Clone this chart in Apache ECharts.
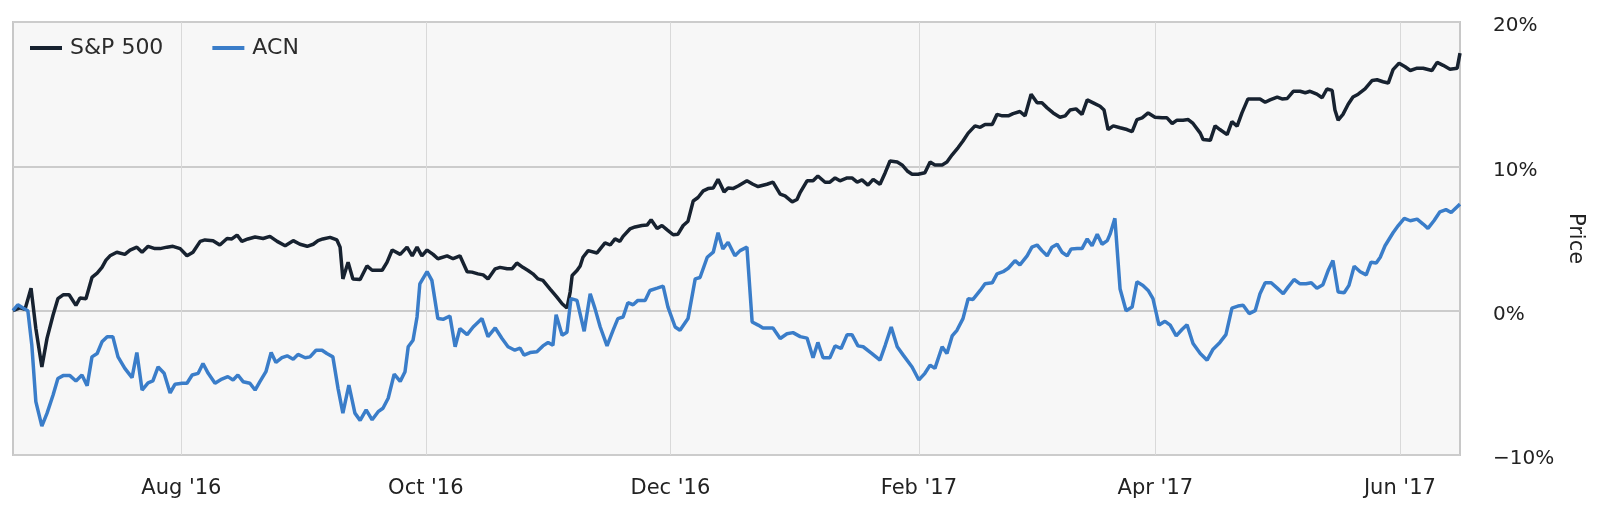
<!DOCTYPE html>
<html>
<head>
<meta charset="utf-8">
<script src="https://cdn.jsdelivr.net/npm/echarts@6/dist/echarts.min.js"></script>
<style>
html,body{margin:0;padding:0;background:#fff;}
#chart{width:1600px;height:521px;}
</style>
</head>
<body>
<div id="chart"></div>
<script>
// Days counted from 2016-06-20 (first trading day shown); values are % change.
const startDate = Date.UTC(2016, 5, 20);
const endDay = 361;

const seriesNames = ['S&P 500', 'ACN'];

const spxDays = [0,1.7,3.0,4.5,5.7,7.2,8.5,10.0,11.2,12.5,14.0,15.7,16.7,18.2,19.7,21.0,22.2,23.2,24.2,25.9,27.9,29.2,30.9,32.2,33.7,35.4,36.7,38.4,39.9,41.7,43.4,44.9,46.7,47.9,49.9,51.6,53.4,54.6,55.9,57.1,58.6,60.4,62.4,64.1,65.9,67.9,69.9,71.6,73.4,74.9,76.1,77.3,79.1,80.8,81.6,82.3,83.6,84.8,86.6,88.3,89.6,92.1,93.3,94.6,96.6,98.3,99.6,100.8,102.0,103.3,104.8,106.0,108.3,109.8,111.5,113.3,114.5,116.0,117.3,118.5,120.3,121.5,123.3,124.5,125.7,127.2,128.5,129.7,131.0,132.2,134.0,135.7,137.0,138.2,139.0,139.5,140.7,141.5,142.2,143.5,145.7,147.7,149.0,150.2,151.4,152.2,153.9,155.2,156.9,158.2,159.2,160.7,161.9,163.2,164.7,165.9,167.2,168.4,169.7,170.9,172.2,173.4,174.7,175.9,177.4,178.4,179.6,180.9,183.1,184.6,185.9,188.1,189.6,191.4,192.6,194.4,195.6,196.4,198.1,199.6,200.8,202.6,203.8,205.1,206.3,208.1,209.3,210.6,211.8,213.3,214.6,216.3,217.6,218.8,220.6,221.8,223.1,224.3,225.8,227.5,228.8,230.0,231.8,233.0,234.3,235.8,237.0,238.3,240.0,241.3,242.5,244.3,245.5,246.8,248.3,249.5,251.2,252.5,254.0,255.5,256.7,258.0,259.5,261.2,262.5,263.7,265.2,266.7,268.0,269.5,271.2,272.2,273.2,274.5,276.2,277.9,279.2,280.4,281.7,283.2,284.9,286.7,287.9,289.2,290.4,291.9,293.2,294.4,296.2,296.9,298.7,299.9,301.1,302.9,304.1,305.4,306.6,308.1,309.4,311.1,312.4,313.6,315.4,316.6,317.9,319.4,321.1,322.4,323.6,325.3,326.6,327.8,329.1,329.8,330.6,331.8,333.1,334.3,335.6,337.3,339.1,340.3,341.8,343.1,344.3,345.8,347.3,348.6,350.3,351.8,354.0,355.3,356.8,358.5,360.3,361.0];
const spxValues = [0,0.2,0.1,1.56,-1.24,-3.9,-1.9,-0.3,0.83,1.1,1.1,0.37,0.87,0.83,2.3,2.6,3.0,3.5,3.8,4.05,3.9,4.2,4.4,4.05,4.46,4.3,4.3,4.4,4.46,4.3,3.8,4.05,4.8,4.9,4.85,4.55,5.0,4.97,5.24,4.8,4.97,5.1,5.0,5.15,4.8,4.5,4.85,4.6,4.46,4.6,4.85,4.97,5.08,4.9,4.4,2.2,3.35,2.2,2.16,3.1,2.8,2.8,3.35,4.2,3.9,4.4,3.8,4.4,3.8,4.2,3.9,3.6,3.8,3.6,3.8,2.7,2.67,2.55,2.48,2.2,2.9,3.0,2.9,2.9,3.3,3.0,2.78,2.55,2.2,2.1,1.5,0.94,0.48,0.18,1.29,2.44,2.78,3.1,3.7,4.16,4.0,4.7,4.55,4.97,4.8,5.15,5.66,5.8,5.9,5.93,6.3,5.7,5.9,5.6,5.26,5.3,5.9,6.2,7.6,7.84,8.3,8.46,8.5,9.1,8.23,8.5,8.46,8.64,9.0,8.76,8.6,8.76,8.9,8.07,7.95,7.54,7.7,8.2,9.0,9.0,9.33,8.9,8.9,9.2,9.0,9.2,9.2,8.9,9.06,8.7,9.1,8.76,9.56,10.37,10.3,10.1,9.68,9.45,9.45,9.56,10.3,10.1,10.1,10.3,10.8,11.3,11.75,12.3,12.8,12.7,12.9,12.9,13.6,13.5,13.5,13.65,13.8,13.5,15.0,14.4,14.4,14.05,13.7,13.4,13.5,13.9,13.98,13.6,14.6,14.4,14.16,13.9,12.55,12.8,12.67,12.55,12.4,13.24,13.36,13.7,13.4,13.36,13.36,12.97,13.2,13.2,13.24,12.97,12.3,11.86,11.8,12.8,12.55,12.2,13.1,12.78,13.7,14.67,14.67,14.67,14.44,14.6,14.8,14.67,14.7,15.2,15.2,15.1,15.2,15.0,14.75,15.36,15.26,13.9,13.2,13.6,14.3,14.8,15.0,15.36,15.95,16.0,15.86,15.77,16.7,17.15,16.9,16.64,16.8,16.8,16.64,17.2,17.0,16.73,16.8,17.84];

const acnDays = [0,1.2,2.5,3.7,4.7,5.7,7.2,8.5,10.0,11.2,12.5,14.2,15.7,17.2,18.5,19.7,21.0,22.2,23.5,24.9,26.2,27.9,29.7,30.9,32.2,33.7,34.9,36.2,37.7,39.2,40.4,42.2,43.4,44.7,46.2,47.4,48.7,50.4,52.1,53.6,54.9,56.1,57.4,59.1,60.4,61.6,63.1,64.4,65.6,67.1,68.4,69.9,71.1,72.9,74.1,75.6,77.1,78.3,79.8,81.1,82.3,83.8,85.3,86.6,88.1,89.6,91.1,92.3,93.6,95.1,96.6,97.8,98.6,99.8,100.8,101.5,103.3,104.5,106.0,107.3,109.0,110.3,111.5,113.3,114.8,117.0,118.5,120.3,122.0,123.5,125.2,126.5,127.5,129.0,130.7,132.2,133.5,134.7,135.5,137.0,138.2,139.2,140.7,142.5,144.0,145.2,146.5,148.2,149.7,150.9,152.2,153.4,154.7,155.9,157.7,158.9,160.7,162.2,163.4,165.2,166.4,168.4,170.2,171.4,173.2,174.7,175.9,177.1,178.4,180.1,181.4,183.1,184.4,185.9,187.1,189.6,191.4,193.1,194.6,196.4,198.1,199.6,200.8,202.1,203.8,205.1,206.6,208.1,209.3,210.8,212.1,214.3,216.3,217.6,219.1,220.6,222.1,224.3,226.0,227.5,228.8,230.0,231.8,233.0,234.3,235.5,237.0,238.3,239.5,241.3,242.5,244.3,245.5,247.0,248.3,250.0,251.2,253.0,254.2,255.5,256.7,258.0,259.2,260.5,261.7,263.0,264.0,265.5,266.7,268.0,269.2,270.5,271.7,273.0,273.7,274.9,276.2,277.7,279.2,280.4,281.9,283.2,284.4,285.9,287.4,288.7,290.2,291.7,292.9,294.4,296.2,297.9,299.4,301.1,302.6,304.1,305.6,306.9,308.4,309.9,311.1,312.4,313.9,315.4,316.9,318.1,319.6,321.1,322.6,323.9,325.3,326.8,328.1,329.3,330.6,332.1,333.3,334.6,336.1,337.6,338.8,340.1,341.1,342.3,344.3,345.6,347.1,348.6,350.3,351.8,353.0,354.5,356.0,357.5,358.8,360.1,361.0];
const acnValues = [0,0.41,0.18,0.0,-2.4,-6.3,-8.0,-7.1,-5.84,-4.7,-4.5,-4.5,-4.87,-4.46,-5.2,-3.2,-2.97,-2.16,-1.8,-1.8,-3.2,-4.0,-4.64,-2.9,-5.5,-5.0,-4.87,-3.9,-4.34,-5.7,-5.1,-5.03,-5.03,-4.46,-4.34,-3.66,-4.34,-5.03,-4.74,-4.57,-4.8,-4.46,-4.92,-5.03,-5.5,-4.92,-4.23,-2.9,-3.59,-3.26,-3.13,-3.36,-3.03,-3.26,-3.2,-2.74,-2.74,-2.97,-3.2,-5.4,-7.1,-5.15,-7.1,-7.6,-6.87,-7.56,-7.0,-6.76,-6.07,-4.4,-4.9,-4.23,-2.5,-2.05,-0.44,1.86,2.7,2.1,-0.55,-0.6,-0.37,-2.5,-1.24,-1.66,-1.13,-0.55,-1.8,-1.2,-1.93,-2.5,-2.74,-2.6,-3.08,-2.9,-2.85,-2.44,-2.2,-2.4,-0.28,-1.7,-1.5,0.83,0.71,-1.43,1.17,0.14,-1.13,-2.44,-1.36,-0.55,-0.44,0.55,0.41,0.71,0.71,1.4,1.56,1.7,0.25,-1.13,-1.36,-0.55,2.2,2.3,3.7,4.05,5.4,4.28,4.74,3.8,4.16,4.4,-0.78,-1.0,-1.2,-1.2,-1.93,-1.6,-1.52,-1.8,-1.9,-3.26,-2.2,-3.26,-3.26,-2.44,-2.62,-1.66,-1.66,-2.44,-2.5,-2.97,-3.43,-2.4,-1.13,-2.5,-3.08,-3.9,-4.8,-4.34,-3.77,-4.0,-2.5,-2.97,-1.75,-1.36,-0.55,0.83,0.78,1.4,1.86,1.93,2.55,2.7,2.94,3.47,3.17,3.8,4.4,4.55,4.16,3.8,4.4,4.6,4.05,3.8,4.28,4.3,4.3,4.97,4.5,5.3,4.6,4.85,5.3,6.4,1.5,0.0,0.25,2.0,1.75,1.4,0.83,-1.0,-0.74,-1.0,-1.75,-1.29,-0.97,-2.28,-2.97,-3.43,-2.67,-2.2,-1.66,0.18,0.32,0.37,-0.2,0.0,1.17,1.93,1.93,1.56,1.17,1.63,2.16,1.86,1.86,1.93,1.56,1.8,2.78,3.47,1.29,1.24,1.75,3.08,2.7,2.48,3.36,3.3,3.7,4.5,5.4,5.9,6.4,6.23,6.34,6.0,5.7,6.23,6.85,7.0,6.8,7.15,7.38];

// x-axis ticks: first of the month, every two months
const tickMonths = [[2016,7],[2016,9],[2016,11],[2017,1],[2017,3],[2017,5]];
const monthNames = ['Jan','Feb','Mar','Apr','May','Jun','Jul','Aug','Sep','Oct','Nov','Dec'];
const yTicks = [-10, 0, 10, 20];

const DAY = 86400000;
function toPairs(days, vals) {
  return days.map((d, i) => [startDate + d * DAY, vals[i]]);
}
const tickValues = tickMonths.map(m => Date.UTC(m[0], m[1], 1));

const chart = echarts.init(document.getElementById('chart'));
const font = 'DejaVu Sans';
chart.setOption({
  backgroundColor: '#ffffff',
  animation: false,
  textStyle: { fontFamily: font },
  legend: {
    left: 25, top: 32,
    itemWidth: 32, itemHeight: 4, itemGap: 49,
    icon: 'rect',
    textStyle: { fontFamily: font, fontSize: 22, color: '#2b2b2b', padding: [0, 0, 0, 3] },
    data: seriesNames
  },
  grid: {
    left: 13, right: 140, top: 22, bottom: 66,
    containLabel: false, outerBoundsMode: 'none',
    show: true, backgroundColor: '#f7f7f7', borderColor: '#c8c8c8', borderWidth: 2
  },
  xAxis: {
    type: 'value',
    min: startDate, max: startDate + endDay * DAY,
    axisLine: { show: false },
    axisTick: { show: false, customValues: tickValues },
    axisLabel: {
      customValues: tickValues,
      margin: 23,
      fontFamily: font, fontSize: 21, color: '#222222',
      formatter: function (v) {
        const d = new Date(v);
        return monthNames[d.getUTCMonth()] + " '" + String(d.getUTCFullYear()).slice(2);
      }
    },
    splitLine: { show: true, lineStyle: { color: '#d9d9d9', width: 1 } }
  },
  yAxis: {
    type: 'value', position: 'right',
    min: yTicks[0], max: yTicks[yTicks.length - 1], interval: 10,
    name: 'Price', nameLocation: 'middle', nameRotate: -90, nameGap: 105,
    nameTextStyle: { fontFamily: font, fontSize: 21, color: '#222222' },
    axisLine: { show: false }, axisTick: { show: false },
    axisLabel: {
      margin: 33,
      formatter: function (v) { return '{v|' + String(v).replace('-', '\u2212') + '%}'; },
      rich: {
        v: { fontFamily: font, fontSize: 20, color: '#222222', padding: [8, 0, 0, 0] }
      }
    },
    splitLine: { show: true, lineStyle: { color: '#cccccc', width: 2 } }
  },
  series: [
    {
      name: seriesNames[0], type: 'line', showSymbol: false, symbol: 'none',
      data: toPairs(spxDays, spxValues),
      lineStyle: { color: '#172230', width: 3.5 }, itemStyle: { color: '#172230' }
    },
    {
      name: seriesNames[1], type: 'line', showSymbol: false, symbol: 'none',
      data: toPairs(acnDays, acnValues),
      lineStyle: { color: '#3a7dc9', width: 3.5 }, itemStyle: { color: '#3a7dc9' }
    }
  ]
});
</script>
</body>
</html>
